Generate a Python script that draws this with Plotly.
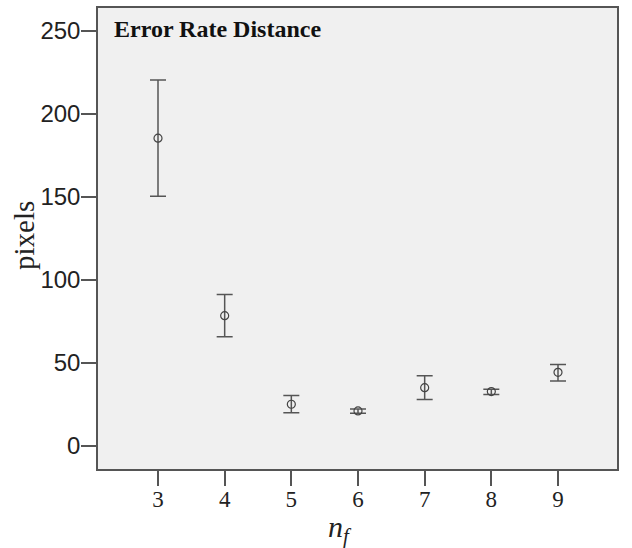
import plotly.graph_objects as go

nf = [3, 4, 5, 6, 7, 8, 9]
mean_px = [185.4, 78.5, 25.2, 21.2, 35.2, 32.8, 44.4]
upper_px = [220.4, 91.3, 30.4, 22.4, 42.4, 34.2, 49.2]
lower_px = [150.5, 65.9, 20.0, 19.8, 28.0, 31.0, 39.2]

y_ticks = [0, 50, 100, 150, 200, 250]
x_ticks = [3, 4, 5, 6, 7, 8, 9]

err_plus = [u - m for u, m in zip(upper_px, mean_px)]
err_minus = [m - l for m, l in zip(mean_px, lower_px)]

fig = go.Figure()
fig.add_trace(go.Scatter(
    x=nf, y=mean_px, mode="markers",
    marker=dict(symbol="circle-open", size=8, color="#444444", line=dict(width=1.2)),
    error_y=dict(type="data", symmetric=False, array=err_plus, arrayminus=err_minus,
                 color="#555555", thickness=1.5, width=8),
    showlegend=False,
))

L, R, T, B = 98, 15, 6, 79
PW, PH = 632 - L - R, 548 - T - B

def px_x(x):
    return (x - L) / PW

def px_y(y):
    return (548 - B - y) / PH

axis_line = "#555555"
fig.update_layout(
    width=632, height=548,
    margin=dict(l=L, r=R, t=T, b=B),
    paper_bgcolor="white",
    plot_bgcolor="#f0f0f0",
    xaxis=dict(
        range=[2.1, 9.885], tickvals=x_ticks, ticktext=[str(v) for v in x_ticks],
        showgrid=False, zeroline=False, ticks="outside", ticklen=15, tickwidth=1.5,
        tickcolor=axis_line, showline=True, linecolor=axis_line, linewidth=1.5, mirror=True,
        tickfont=dict(family="Liberation Serif", size=23, color="#222222"),
        ticklabelstandoff=-6,
    ),
    yaxis=dict(
        range=[-13.8, 263.8], tickvals=y_ticks,
        showgrid=False, zeroline=False, ticks="outside", ticklen=15, tickwidth=1.5,
        tickcolor=axis_line, showline=True, linecolor=axis_line, linewidth=1.5, mirror=True,
        tickfont=dict(family="Liberation Sans", size=24, color="#222222"),
        ticklabelstandoff=-4,
    ),
    annotations=[
        dict(text="<b>Error Rate Distance</b>", xref="paper", yref="paper",
             x=px_x(112), y=px_y(27), xanchor="left", yanchor="middle", showarrow=False,
             font=dict(family="Liberation Serif", size=24, color="#111111")),
        dict(text="pixels", xref="paper", yref="paper", textangle=-90,
             x=px_x(24), y=px_y(235), xanchor="center", yanchor="middle", showarrow=False,
             font=dict(family="Liberation Serif", size=29, color="#222222")),
        dict(text="<i>n</i><sub><i>f</i></sub>", xref="paper", yref="paper",
             x=px_x(340), y=px_y(529), xanchor="center", yanchor="middle", showarrow=False,
             font=dict(family="Liberation Serif", size=30, color="#222222")),
    ],
)

fig.write_html("out.html", config={"displayModeBar": False},
               post_script="document.body.style.margin='0';")
